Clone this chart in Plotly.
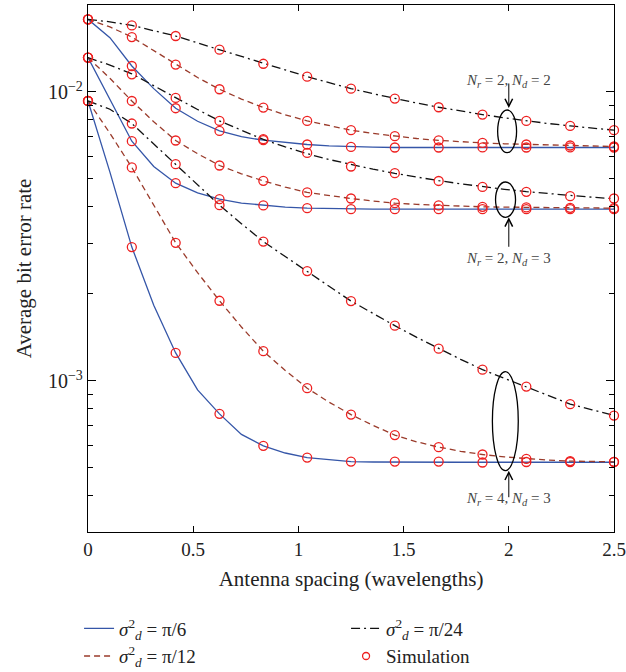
import plotly.graph_objects as go

# ---------------- data ----------------
x_theory = [0, 0.1042, 0.2083, 0.3125, 0.4167, 0.5208, 0.625, 0.7292, 0.8333, 0.9375,
            1.0417, 1.1458, 1.25, 1.3542, 1.4583, 1.5625, 1.6667, 1.7708, 1.875, 1.9792,
            2.0833, 2.1875, 2.2917, 2.3958, 2.5]
x_sim = [0, 0.2083, 0.4167, 0.625, 0.8333, 1.0417, 1.25, 1.4583, 1.6667, 1.875, 2.0833, 2.2917, 2.5]

# Nr=2, Nd=2
th_22_pi6 = [0.01784, 0.01542, 0.01230, 0.01027, 0.008785, 0.00792, 0.007334, 0.00700, 0.006808, 0.006675,
             0.00658, 0.006506, 0.006455, 0.00644, 0.006424, 0.006424, 0.006424, 0.006424, 0.006424, 0.006424,
             0.006424, 0.006424, 0.006424, 0.006424, 0.006424]
th_22_pi12 = [0.01784, 0.01680, 0.01549, 0.01388, 0.01244, 0.01122, 0.01022, 0.009451, 0.008834, 0.008339,
              0.007940, 0.007630, 0.007374, 0.007187, 0.007030, 0.006901, 0.006800, 0.006722, 0.006664, 0.006617,
              0.006580, 0.006549, 0.006527, 0.006501, 0.006476]
th_22_pi24 = [0.01784, 0.01749, 0.01700, 0.01632, 0.01562, 0.01478, 0.01401, 0.01323, 0.01252, 0.01189,
              0.01130, 0.01077, 0.01027, 0.009865, 0.009489, 0.009154, 0.008854, 0.008590, 0.008352, 0.008137,
              0.007940, 0.007777, 0.007630, 0.007490, 0.007374]
sim_22_pi6 = [0.01784, 0.01230, 0.008785, 0.007334, 0.006808, 0.00658, 0.006455, 0.006424, 0.006424,
              0.00643, 0.006424, 0.00643, 0.006424]
sim_22_pi12 = [0.01784, 0.01549, 0.01244, 0.01022, 0.008834, 0.007940, 0.007374, 0.007030, 0.006800,
               0.006664, 0.006580, 0.006527, 0.006476]
sim_22_pi24 = [0.01784, 0.01700, 0.01562, 0.01401, 0.01252, 0.01130, 0.01027, 0.009489, 0.008854,
               0.008352, 0.007940, 0.007630, 0.007374]

# Nr=2, Nd=3
th_23_pi6 = [0.01315, 0.00940, 0.006755, 0.00552, 0.004835, 0.004476, 0.004256, 0.004124, 0.004048, 0.003995,
             0.003962, 0.003948, 0.00393, 0.00393, 0.00393, 0.00393, 0.00393, 0.00393, 0.00393, 0.00393,
             0.00393, 0.00393, 0.00393, 0.00393, 0.00393]
th_23_pi12 = [0.01315, 0.01115, 0.009307, 0.007889, 0.006793, 0.006114, 0.005566, 0.005210, 0.004925, 0.004683,
              0.004490, 0.004374, 0.004279, 0.004193, 0.004123, 0.004082, 0.004048, 0.004024, 0.004003, 0.003995,
              0.003984, 0.003979, 0.003971, 0.003966, 0.003962]
th_23_pi24 = [0.01315, 0.01239, 0.01156, 0.01050, 0.009550, 0.008694, 0.007940, 0.007355, 0.006852, 0.006455,
              0.006114, 0.005837, 0.005602, 0.005404, 0.005227, 0.005070, 0.004932, 0.004811, 0.004701, 0.004605,
              0.004519, 0.004444, 0.004377, 0.004322, 0.004273]
sim_23_pi6 = [0.01315, 0.006755, 0.004835, 0.004256, 0.004048, 0.003962, 0.00393, 0.00393, 0.00393,
              0.00393, 0.00393, 0.00393, 0.00393]
sim_23_pi12 = [0.01315, 0.009307, 0.006793, 0.005566, 0.004925, 0.004490, 0.004279, 0.004123, 0.004048,
               0.004003, 0.003984, 0.003971, 0.003962]
sim_23_pi24 = [0.01315, 0.01151, 0.009535, 0.007940, 0.006863, 0.006152, 0.005522, 0.005236, 0.004920,
               0.004694, 0.004511, 0.004358, 0.004279]

# Nr=4, Nd=3
th_43_pi6 = [0.009307, 0.00528, 0.002905, 0.001829, 0.00125, 0.000931, 0.000769, 0.000653, 0.000596, 0.000563,
             0.000543, 0.000533, 0.000526, 0.000524, 0.000523, 0.000523, 0.000523, 0.000523, 0.000523, 0.000523,
             0.000523, 0.000523, 0.000523, 0.000523, 0.000523]
th_43_pi12 = [0.009307, 0.007197, 0.005479, 0.004042, 0.003006, 0.002371, 0.001894, 0.001537, 0.001267, 0.001087,
              0.0009437, 0.0008441, 0.0007648, 0.0007019, 0.0006494, 0.0006153, 0.0005899, 0.0005708, 0.0005563,
              0.0005457, 0.0005376, 0.0005319, 0.0005278, 0.0005256, 0.0005248]
th_43_pi24 = [0.009307, 0.008714, 0.007777, 0.006622, 0.005625, 0.004766, 0.004058, 0.003500, 0.003035, 0.002694,
              0.002400, 0.002126, 0.001890, 0.001711, 0.001553, 0.001415, 0.001293, 0.001188, 0.001094, 0.001021,
              0.0009557, 0.0008902, 0.0008308, 0.000794, 0.0007589]
sim_43_pi6 = [0.009307, 0.002905, 0.00125, 0.000769, 0.000596, 0.000543, 0.000526, 0.000526, 0.000526,
              0.000522, 0.000524, 0.000524, 0.000524]
sim_43_pi12 = [0.009307, 0.005479, 0.003006, 0.001894, 0.001267, 0.0009437, 0.0007648, 0.0006494, 0.0005899,
               0.0005563, 0.0005376, 0.0005278, 0.0005248]
sim_43_pi24 = [0.009307, 0.007777, 0.005625, 0.004058, 0.003035, 0.002400, 0.001890, 0.001553, 0.001293,
               0.001094, 0.0009557, 0.0008308, 0.0007589]

x_ticks = [0, 0.5, 1, 1.5, 2, 2.5]
x_tick_labels = ["0", "0.5", "1", "1.5", "2", "2.5"]
y_ticks = [0.001, 0.01]
y_tick_labels = ["10<sup>\u22123</sup>", "10<sup>\u22122</sup>"]
y_minor = [4e-4, 5e-4, 6e-4, 7e-4, 8e-4, 9e-4, 2e-3, 3e-3, 4e-3, 5e-3, 6e-3, 7e-3, 8e-3, 9e-3, 2e-2]

legend_names = {
    "pi6": "<i>\u03c3</i><sup>2</sup><sub><i>d</i></sub> = \u03c0/6",
    "pi12": "<i>\u03c3</i><sup>2</sup><sub><i>d</i></sub> = \u03c0/12",
    "pi24": "<i>\u03c3</i><sup>2</sup><sub><i>d</i></sub> = \u03c0/24",
    "sim": "Simulation",
}

# ---------------- styles ----------------
FONT = "Liberation Serif"
SIM_RED = "#ee2020"
styles = {
    "pi6": dict(color="#3556a8", width=1.3, dash="solid"),
    "pi12": dict(color="#9a3b2b", width=1.3, dash="6px,4px"),
    "pi24": dict(color="#111111", width=1.3, dash="9px,4px,2px,4px"),
}
ranks = {"pi6": 1, "pi24": 2, "pi12": 3, "sim": 4}

theory = [
    ("pi6", th_22_pi6), ("pi12", th_22_pi12), ("pi24", th_22_pi24),
    ("pi6", th_23_pi6), ("pi12", th_23_pi12), ("pi24", th_23_pi24),
    ("pi6", th_43_pi6), ("pi12", th_43_pi12), ("pi24", th_43_pi24),
]
sims = [sim_22_pi6, sim_22_pi12, sim_22_pi24, sim_23_pi6, sim_23_pi12, sim_23_pi24,
        sim_43_pi6, sim_43_pi12, sim_43_pi24]

fig = go.Figure()
shown = set()
for key, ys in theory:
    fig.add_trace(go.Scatter(
        x=x_theory, y=ys, mode="lines", line=styles[key],
        name=legend_names[key], showlegend=key not in shown,
        legendrank=ranks[key], hoverinfo="skip"))
    shown.add(key)

for ys in sims:
    fig.add_trace(go.Scatter(
        x=x_sim, y=ys, mode="markers",
        marker=dict(symbol="circle-open", size=9, color=SIM_RED, line=dict(width=1.3, color=SIM_RED)),
        name=legend_names["sim"], showlegend=False,
        cliponaxis=False, hoverinfo="skip"))

# legend entry for the simulation markers (smaller symbol, as in the reference legend)
fig.add_trace(go.Scatter(
    x=[None], y=[None], mode="markers",
    marker=dict(symbol="circle-open", size=7, color=SIM_RED, line=dict(width=1.3, color=SIM_RED)),
    name=legend_names["sim"], showlegend=True, legendrank=ranks["sim"], hoverinfo="skip"))

axis_common = dict(showline=True, linecolor="black", linewidth=1.3, mirror="ticks",
                   ticks="inside", tickcolor="black", showgrid=False, zeroline=False)

fig.update_xaxes(range=[0, 2.5], tickvals=x_ticks, ticktext=x_tick_labels, ticklen=6,
                 tickfont=dict(family=FONT, size=19, color="#222"),
                 title=dict(text="Antenna spacing (wavelengths)", font=dict(family=FONT, size=21, color="#222"),
                            standoff=12),
                 **axis_common)
fig.update_yaxes(type="log", range=[-3.5229, -1.699], tickvals=y_ticks, ticktext=y_tick_labels, ticklen=8,
                 tickfont=dict(family=FONT, size=20, color="#222"),
                 minor=dict(tickvals=y_minor, ticks="inside", ticklen=5, tickcolor="black"),
                 title=dict(text="Average bit error rate", font=dict(family=FONT, size=21, color="#222"),
                            standoff=10),
                 **axis_common)

ann_font = dict(family=FONT, size=15, color="#444")
annotations = [
    dict(x=2.0, y=0.876, text="<i>N<sub>r</sub></i> = 2, <i>N<sub>d</sub></i> = 2"),
    dict(x=2.0, y=0.5186, text="<i>N<sub>r</sub></i> = 2, <i>N<sub>d</sub></i> = 3"),
    dict(x=2.0, y=0.0417, text="<i>N<sub>r</sub></i> = 4, <i>N<sub>d</sub></i> = 3"),
]
for a in annotations:
    fig.add_annotation(x=a["x"], y=a["y"], xref="x", yref="y domain", text=a["text"],
                       showarrow=False, font=ann_font)

arrows = [(0.8046, -26), (0.5972, 31), (0.1163, 28)]
for yy, ay in arrows:
    fig.add_annotation(x=2.0, y=yy, xref="x", yref="y domain", text="", showarrow=True,
                       ax=0, ay=ay, arrowhead=5, arrowsize=1.5, arrowwidth=1, arrowcolor="black",
                       standoff=0, startstandoff=0)

ellipses = [(1.947, 2.037, 0.7197, 0.8008), (1.937, 2.032, 0.5972, 0.6641), (1.922, 2.045, 0.1163, 0.3042)]
for x0, x1, y0, y1 in ellipses:
    fig.add_shape(type="circle", xref="x", yref="y domain", x0=x0, x1=x1, y0=y0, y1=y1,
                  line=dict(color="black", width=1.3))

fig.update_layout(
    width=626, height=672,
    margin=dict(l=88, r=12, t=5, b=140, autoexpand=False),
    plot_bgcolor="white", paper_bgcolor="white",
    font=dict(family=FONT, color="#222"),
    legend=dict(orientation="h", x=-0.017, xanchor="left", y=-0.147, yanchor="top",
                entrywidth=222, entrywidthmode="pixels", traceorder="normal",
                font=dict(family=FONT, size=19, color="#222"), bgcolor="rgba(0,0,0,0)",
                itemwidth=30, tracegroupgap=0),
)

fig.write_html("out.html")
